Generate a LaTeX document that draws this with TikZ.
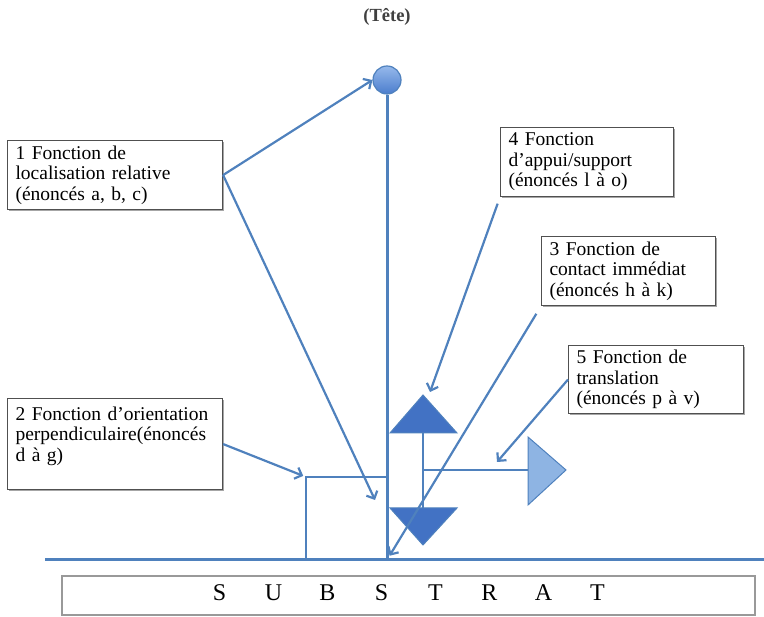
\documentclass[tikz,border=0pt]{standalone}
\usepackage{fontspec}
\setmainfont{Liberation Serif}
\usepackage{tikz}
\usetikzlibrary{arrows.meta,shadows}
\definecolor{lineblue}{RGB}{79,129,189}
\definecolor{darkfill}{RGB}{66,114,196}
\definecolor{lightfill}{RGB}{142,180,227}
\definecolor{headtop}{RGB}{150,185,235}
\definecolor{headbot}{RGB}{75,125,205}
\definecolor{boxline}{RGB}{80,80,80}

\begin{document}
\begin{tikzpicture}[x=1pt,y=-1pt,
        every node/.style={inner sep=0pt},
        label/.style={draw=boxline,line width=1.1pt,fill=white,anchor=north west,align=left,
            inner xsep=8pt,font=\fontsize{19.5}{20.5}\selectfont,
            drop shadow={shadow xshift=1.2pt,shadow yshift=-1.2pt,fill=gray!70,opacity=1}},
        heavy/.style={draw=lineblue,line width=3pt},
        mid/.style={draw=lineblue,line width=2.4pt},
        thin/.style={draw=lineblue,line width=1.2pt},
        arr/.style={draw=lineblue,line width=2.2pt,-{Straight Barb[length=6pt,width=12pt]}}]

    \useasboundingbox (0,0) rectangle (764,617);

    % tete et tige
    \node[text=black!75] (tete) at (387,17) {\fontsize{18.5}{20}\selectfont\bfseries (Tête)};
    \node[circle,draw=lineblue,line width=1.2pt,top color=headtop,bottom color=headbot,minimum size=28pt] (head) at (387,80) {};
    \coordinate (foot) at (387,560);
    \coordinate (groundL) at (45,560);
    \coordinate (groundR) at (764,560);
    \draw[heavy] (head.south) -- (foot);
    \draw[heavy] (groundL) -- (groundR);

    % bloc
    \coordinate (blockNW) at (306,477);
    \draw[mid] (blockNW |- foot) -- (blockNW) -- (blockNW -| foot);

    % triangles
    \coordinate (upT) at (423,395);
    \coordinate (downT) at (423,545);
    \coordinate (rightT) at (566,470);
    \draw[thin] (423,433) -- (423,508);
    \draw[thin] (423,470) -- (528,470);
    \filldraw[fill=darkfill,draw=lineblue,line width=1pt] (390,433) -- (457,433) -- (upT) -- cycle;
    \filldraw[fill=darkfill,draw=lineblue,line width=1pt] (390,508) -- (457,508) -- (downT) -- cycle;
    \filldraw[fill=lightfill,draw=lineblue,line width=1pt] (528,437) -- (rightT) -- (528,505) -- cycle;

    % etiquettes
    \node[label,text width=199pt,minimum width=215pt,minimum height=69pt] (f1) at (7,140)
        {1 Fonction de\\localisation relative\\(énoncés a, b, c)};
    \node[label,text width=199pt,minimum width=215pt,minimum height=91pt] (f2) at (7,398)
        {2 Fonction d’orientation\\perpendiculaire(énoncés\\d à g)\\~};
    \node[label,text width=157pt,minimum width=173pt,minimum height=69pt] (f4) at (500,127)
        {4 Fonction\\d’appui/support\\(énoncés l à o)};
    \node[label,text width=158pt,minimum width=174pt,minimum height=69pt] (f3) at (541,236)
        {3 Fonction de\\contact immédiat\\(énoncés h à k)};
    \node[label,text width=159pt,minimum width=175pt,minimum height=68pt] (f5) at (568,345)
        {5 Fonction de\\translation\\(énoncés p à v)};

    % fleches
    \coordinate (stemTip) at (375,500);
    \coordinate (supportTip) at (430,392);
    \coordinate (slideTip) at (497,462);
    \draw[arr] (f1.east) -- (head.west);
    \draw[arr] (f1.east) -- (stemTip);
    \draw[arr,shorten >=3pt] (f2.east) -- (blockNW);
    \draw[arr,shorten <=7pt] (f4.south west) -- (supportTip);
    \draw[arr,shorten <=9pt,shorten >=5pt] (f3.south west) -- (foot);
    \draw[arr] (f5.west) -- (slideTip);

    % substrat
    \node[draw=gray!80,line width=1.2pt,minimum width=693pt,minimum height=39pt,text depth=5pt,
        font=\fontsize{24}{26}\selectfont] (substrat) at (408.5,595.5)
        {\makebox[54pt]{S}\makebox[54pt]{U}\makebox[54pt]{B}\makebox[54pt]{S}\makebox[54pt]{T}\makebox[54pt]{R}\makebox[54pt]{A}\makebox[54pt]{T}};
\end{tikzpicture}
\end{document}
